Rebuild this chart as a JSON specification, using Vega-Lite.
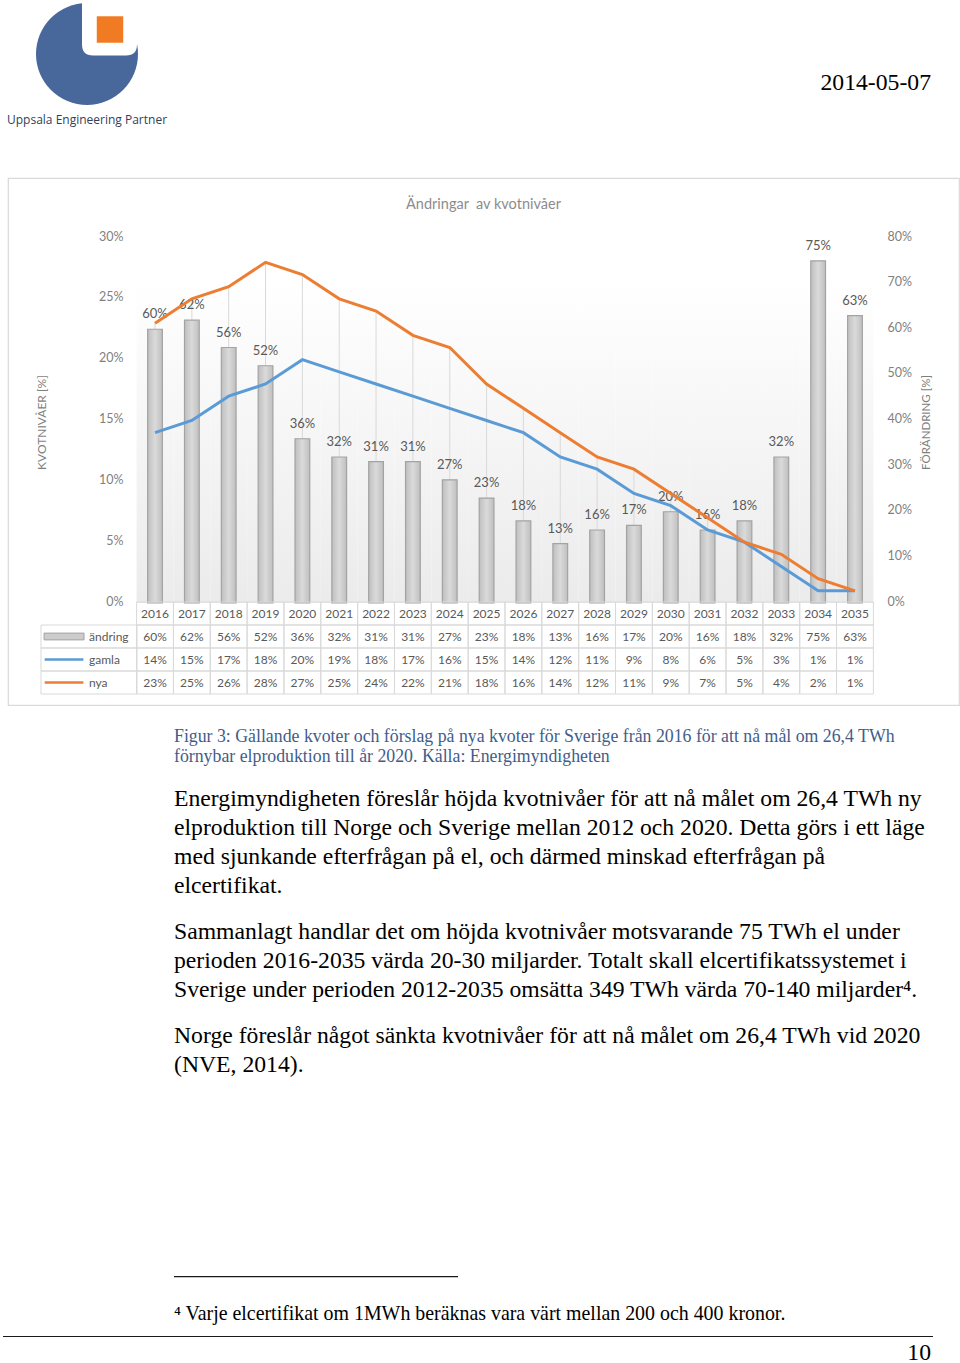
{
  "$schema": "https://vega.github.io/schema/vega-lite/v6.json",
  "padding": 0,
  "background": "white",
  "spacing": 0,
  "config": {"view": {"stroke": null}, "font": "Lato", "concat": {"spacing": 0}},
  "vconcat": [
    {
      "spacing": 0,
      "hconcat": [
        {
          "width": 174, "height": 106,
          "data": {"values": [{"logo": "Uppsala Engineering Partner"}]},
          "title": {"text": "Uppsala Engineering Partner", "orient": "bottom", "anchor": "start", "font": "Open Sans", "fontSize": 12, "fontWeight": "normal", "color": "#2f3f5c", "offset": 8, "dx": 7},
          "layer": [
            {"mark": {"type": "arc", "theta": 0, "theta2": 6.2832, "outerRadius": 51, "fill": "#48689c"}, "encoding": {}},
            {"mark": {"type": "point", "shape": "M-1,-1H1V0.6Q1,1 0.6,1H-0.6Q-1,1 -1,0.6Z", "size": 3025, "filled": true, "fill": "white", "opacity": 1, "xOffset": 22.5, "yOffset": -26}, "encoding": {}},
            {"mark": {"type": "square", "size": 700, "fill": "#f07b22", "opacity": 1, "xOffset": 23, "yOffset": -24.5}, "encoding": {}}
          ]
        },
        {
          "width": 786, "height": 176, "data": {"values": []}, "mark": "point",
          "title": {"text": "2014-05-07", "anchor": "end", "font": "Liberation Serif", "fontSize": 23.7, "fontWeight": "normal", "color": "#000000", "offset": -94, "dx": -29}
        }
      ]
    },
    {
      "spacing": 0,
      "hconcat": [
        {"width": 7, "height": 527, "data": {"values": []}, "mark": "point"},
        {
          "width": 951, "height": 527,
          "view": {"stroke": "#d9d9d9", "strokeWidth": 1.2},
          "title": {"text": "Ändringar\u00a0 av kvotnivåer", "font": "Lato", "fontSize": 14.5, "fontWeight": "normal", "color": "#8c8c8c", "anchor": "middle", "offset": -34},
          "data": {"values": [
            {"year": 2016, "ändring": 0.60, "gamla": 0.14, "nya": 0.23},
            {"year": 2017, "ändring": 0.62, "gamla": 0.15, "nya": 0.25},
            {"year": 2018, "ändring": 0.56, "gamla": 0.17, "nya": 0.26},
            {"year": 2019, "ändring": 0.52, "gamla": 0.18, "nya": 0.28},
            {"year": 2020, "ändring": 0.36, "gamla": 0.20, "nya": 0.27},
            {"year": 2021, "ändring": 0.32, "gamla": 0.19, "nya": 0.25},
            {"year": 2022, "ändring": 0.31, "gamla": 0.18, "nya": 0.24},
            {"year": 2023, "ändring": 0.31, "gamla": 0.17, "nya": 0.22},
            {"year": 2024, "ändring": 0.27, "gamla": 0.16, "nya": 0.21},
            {"year": 2025, "ändring": 0.23, "gamla": 0.15, "nya": 0.18},
            {"year": 2026, "ändring": 0.18, "gamla": 0.14, "nya": 0.16},
            {"year": 2027, "ändring": 0.13, "gamla": 0.12, "nya": 0.14},
            {"year": 2028, "ändring": 0.16, "gamla": 0.11, "nya": 0.12},
            {"year": 2029, "ändring": 0.17, "gamla": 0.09, "nya": 0.11},
            {"year": 2030, "ändring": 0.20, "gamla": 0.08, "nya": 0.09},
            {"year": 2031, "ändring": 0.16, "gamla": 0.06, "nya": 0.07},
            {"year": 2032, "ändring": 0.18, "gamla": 0.05, "nya": 0.05},
            {"year": 2033, "ändring": 0.32, "gamla": 0.03, "nya": 0.04},
            {"year": 2034, "ändring": 0.75, "gamla": 0.01, "nya": 0.02},
            {"year": 2035, "ändring": 0.63, "gamla": 0.01, "nya": 0.01}
          ]},
          "resolve": {
            "scale": {"x": "independent", "y": "independent", "color": "independent", "shape": "independent"},
            "axis": {"x": "independent", "y": "independent"}
          },
          "layer": [
            {
              "mark": {"type": "rect", "fill": {"gradient": "linear", "x1": 0, "y1": 0, "x2": 0, "y2": 1, "stops": [{"offset": 0, "color": "#ffffff"}, {"offset": 1, "color": "#ebebeb"}]}},
              "encoding": {
                "x": {"field": "year", "type": "ordinal", "scale": {"range": [128.6, 865.4], "paddingInner": 0, "paddingOuter": 0}, "axis": null},
                "y": {"datum": 0, "type": "quantitative", "scale": {"domain": [0, 1], "range": [425, 101]}, "axis": null},
                "y2": {"datum": 1}
              }
            },
            {
              "mark": {"type": "rule", "color": "#d9d9d9", "strokeWidth": 1},
              "encoding": {
                "x": {"field": "year", "type": "ordinal", "scale": {"range": [128.6, 865.4], "paddingInner": 0, "paddingOuter": 0}, "axis": null},
                "y": {"field": "nya", "type": "quantitative", "scale": {"domain": [0, 0.3], "range": [425, 60], "nice": false}, "axis": null},
                "y2": {"datum": 0}
              }
            },
            {
              "layer": [
                {
                  "mark": {"type": "bar", "width": {"band": 0.4}, "fill": {"gradient": "linear", "x1": 0, "y1": 0, "x2": 1, "y2": 0, "stops": [{"offset": 0, "color": "#bfbfbf"}, {"offset": 0.5, "color": "#dadada"}, {"offset": 1, "color": "#bfbfbf"}]}, "stroke": "#a3a3a3", "strokeWidth": 1.2},
                  "encoding": {
                    "x": {"field": "year", "type": "ordinal", "scale": {"range": [128.6, 865.4], "paddingInner": 0, "paddingOuter": 0}, "axis": null},
                    "y": {"field": "ändring", "type": "quantitative", "scale": {"domain": [0, 0.8], "range": [425, 60], "nice": false},
                      "axis": {"orient": "right", "values": [0, 0.1, 0.2, 0.3, 0.4, 0.5, 0.6, 0.7, 0.8], "format": ".0%", "domain": false, "ticks": false, "grid": false, "labelPadding": 8, "labelOffset": -2, "offset": -80, "labelFont": "Lato", "labelFontSize": 12.5, "labelColor": "#7f7f7f", "title": "FÖRÄNDRING [%]", "titleFont": "Lato", "titleFontSize": 11.5, "titleFontWeight": "normal", "titleColor": "#7f7f7f", "titleAngle": 270, "titleX": 47, "titleY": 244, "titleAlign": "center", "titleBaseline": "middle"}}
                  }
                },
                {
                  "mark": {"type": "text", "baseline": "bottom", "dy": -8, "font": "Lato", "fontSize": 13, "color": "#595959"},
                  "encoding": {
                    "x": {"field": "year", "type": "ordinal"},
                    "y": {"field": "ändring", "type": "quantitative"},
                    "text": {"field": "ändring", "type": "quantitative", "format": ".0%"}
                  }
                }
              ]
            },
            {
              "transform": [{"fold": ["gamla", "nya"], "as": ["serie", "v"]}],
              "mark": {"type": "line", "strokeWidth": 3},
              "encoding": {
                "x": {"field": "year", "type": "ordinal", "scale": {"range": [128.6, 865.4], "paddingInner": 0, "paddingOuter": 0}, "axis": null},
                "y": {"field": "v", "type": "quantitative", "scale": {"domain": [0, 0.3], "range": [425, 60], "nice": false},
                  "axis": {"orient": "left", "values": [0, 0.05, 0.1, 0.15, 0.2, 0.25, 0.3], "format": ".0%", "domain": false, "ticks": false, "grid": false, "labelPadding": 8, "labelOffset": -2, "offset": -123, "labelFont": "Lato", "labelFontSize": 12.5, "labelColor": "#7f7f7f", "title": "KVOTNIVÅER [%]", "titleFont": "Lato", "titleFontSize": 12, "titleFontWeight": "normal", "titleColor": "#7f7f7f", "titleAngle": 270, "titleX": -90, "titleY": 244, "titleAlign": "center", "titleBaseline": "middle"}},
                "color": {"field": "serie", "type": "nominal", "scale": {"domain": ["gamla", "nya"], "range": ["#5b9bd5", "#ed7d31"]}, "legend": null}
              }
            },
            {
              "layer": [
                {
                  "transform": [{"fold": ["ändring", "gamla", "nya"], "as": ["serie", "v"]}],
                  "mark": {"type": "rect", "fill": "white", "fillOpacity": 0, "stroke": "#d9d9d9", "strokeWidth": 1},
                  "encoding": {
                    "x": {"field": "year", "type": "ordinal", "scale": {"range": [128.6, 865.4], "paddingInner": 0, "paddingOuter": 0}, "axis": null},
                    "y": {"field": "serie", "type": "nominal", "scale": {"domain": ["år", "ändring", "gamla", "nya"], "range": [424, 516], "paddingInner": 0, "paddingOuter": 0}, "axis": null}
                  }
                },
                {
                  "mark": {"type": "rect", "fill": "white", "fillOpacity": 0, "stroke": "#d9d9d9", "strokeWidth": 1},
                  "encoding": {
                    "x": {"field": "year", "type": "ordinal"},
                    "y": {"datum": "år", "type": "nominal"}
                  }
                },
                {
                  "transform": [{"fold": ["ändring", "gamla", "nya"], "as": ["serie", "v"]}],
                  "mark": {"type": "text", "font": "Lato", "fontSize": 12, "color": "#595959"},
                  "encoding": {
                    "x": {"field": "year", "type": "ordinal"},
                    "y": {"field": "serie", "type": "nominal"},
                    "text": {"field": "v", "type": "quantitative", "format": ".0%"}
                  }
                },
                {
                  "mark": {"type": "text", "font": "Lato", "fontSize": 12, "color": "#595959"},
                  "encoding": {
                    "x": {"field": "year", "type": "ordinal"},
                    "y": {"datum": "år", "type": "nominal"},
                    "text": {"field": "year", "type": "nominal"}
                  }
                }
              ]
            },
            {
              "data": {"values": [{"serie": "ändring"}, {"serie": "gamla"}, {"serie": "nya"}]},
              "layer": [
                {
                  "mark": {"type": "rect", "fill": "white", "fillOpacity": 0, "stroke": "#d9d9d9", "strokeWidth": 1},
                  "encoding": {
                    "x": {"datum": 0, "type": "quantitative", "scale": {"domain": [0, 1], "range": [33, 129]}, "axis": null},
                    "x2": {"datum": 1},
                    "y": {"field": "serie", "type": "nominal", "scale": {"domain": ["år", "ändring", "gamla", "nya"], "range": [424, 516], "paddingInner": 0, "paddingOuter": 0}, "axis": null}
                  }
                },
                {
                  "transform": [{"filter": "datum.serie == 'ändring'"}],
                  "mark": {"type": "point", "shape": "M-1,-0.17H1V0.17H-1Z", "size": 1600, "filled": true, "fill": "#cccccc", "stroke": "#a3a3a3", "strokeWidth": 1, "opacity": 1},
                  "encoding": {
                    "x": {"datum": 0.24, "type": "quantitative"},
                    "y": {"field": "serie", "type": "nominal"}
                  }
                },
                {
                  "transform": [{"filter": "datum.serie != 'ändring'"}],
                  "mark": {"type": "point", "shape": "M-1,0H1", "size": 1500, "filled": false, "strokeWidth": 2.5, "opacity": 1},
                  "encoding": {
                    "x": {"datum": 0.24, "type": "quantitative"},
                    "y": {"field": "serie", "type": "nominal"},
                    "color": {"field": "serie", "type": "nominal", "scale": {"domain": ["gamla", "nya"], "range": ["#5b9bd5", "#ed7d31"]}, "legend": null}
                  }
                },
                {
                  "mark": {"type": "text", "align": "left", "font": "Lato", "fontSize": 12, "color": "#595959"},
                  "encoding": {
                    "x": {"datum": 0.5, "type": "quantitative"},
                    "y": {"field": "serie", "type": "nominal"},
                    "text": {"field": "serie", "type": "nominal"}
                  }
                }
              ]
            }
          ]
        }
      ]
    },
    {
      "spacing": 0,
      "hconcat": [
        {"width": 174, "height": 10, "data": {"values": []}, "mark": "point"},
        {
          "spacing": 0,
          "vconcat": [
            {"width": 760, "height": 22, "data": {"values": []}, "mark": "point"},
            {"width": 760, "height": 20.5, "data": {"values": []}, "mark": "point",
              "title": {"text": ["Figur 3: Gällande kvoter och förslag på nya kvoter för Sverige från 2016 för att nå mål om 26,4 TWh", "förnybar elproduktion till år 2020. Källa: Energimyndigheten"], "anchor": "start", "font": "Liberation Serif", "fontSize": 17.8, "fontWeight": "normal", "color": "#3f5d8a", "lineHeight": 20, "offset": 0}},
            {"width": 760, "height": 21.5, "data": {"values": []}, "mark": "point",
              "title": {"text": ["Energimyndigheten föreslår höjda kvotnivåer för att nå målet om 26,4 TWh ny", "elproduktion till Norge och Sverige mellan 2012 och 2020. Detta görs i ett läge", "med sjunkande efterfrågan på el, och därmed minskad efterfrågan på", "elcertifikat."], "anchor": "start", "font": "Liberation Serif", "fontSize": 23.7, "fontWeight": "normal", "color": "#000000", "lineHeight": 29, "offset": 0}},
            {"width": 760, "height": 21.5, "data": {"values": []}, "mark": "point",
              "title": {"text": ["Sammanlagt handlar det om höjda kvotnivåer motsvarande 75 TWh el under", "perioden 2016-2035 värda 20-30 miljarder. Totalt skall elcertifikatssystemet i", "Sverige under perioden 2012-2035 omsätta 349 TWh värda 70-140 miljarder⁴."], "anchor": "start", "font": "Liberation Serif", "fontSize": 23.7, "fontWeight": "normal", "color": "#000000", "lineHeight": 29, "offset": 0}},
            {"width": 760, "height": 198.5, "data": {"values": []}, "mark": "point",
              "title": {"text": ["Norge föreslår något sänkta kvotnivåer för att nå målet om 26,4 TWh vid 2020", "(NVE, 2014)."], "anchor": "start", "font": "Liberation Serif", "fontSize": 23.7, "fontWeight": "normal", "color": "#000000", "lineHeight": 29, "offset": 0}},
            {"width": 284, "height": 1.3, "data": {"values": []}, "mark": "point", "view": {"fill": "#1a1a1a", "stroke": null}},
            {"width": 760, "height": 26, "data": {"values": []}, "mark": "point"},
            {"width": 760, "height": 12, "data": {"values": []}, "mark": "point",
              "title": {"text": "⁴ Varje elcertifikat om 1MWh beräknas vara värt mellan 200 och 400 kronor.", "anchor": "start", "font": "Liberation Serif", "fontSize": 19.9, "fontWeight": "normal", "color": "#000000", "offset": 0}}
          ]
        }
      ]
    },
    {
      "spacing": 0,
      "hconcat": [
        {"width": 3, "height": 1, "data": {"values": []}, "mark": "point"},
        {"width": 930, "height": 1, "data": {"values": []}, "mark": "point", "view": {"fill": "#1a1a1a", "stroke": null},
          "title": {"text": "10", "orient": "bottom", "anchor": "end", "font": "Liberation Serif", "fontSize": 23.7, "fontWeight": "normal", "color": "#000000", "offset": 4, "dx": -2}}
      ]
    }
  ]
}
